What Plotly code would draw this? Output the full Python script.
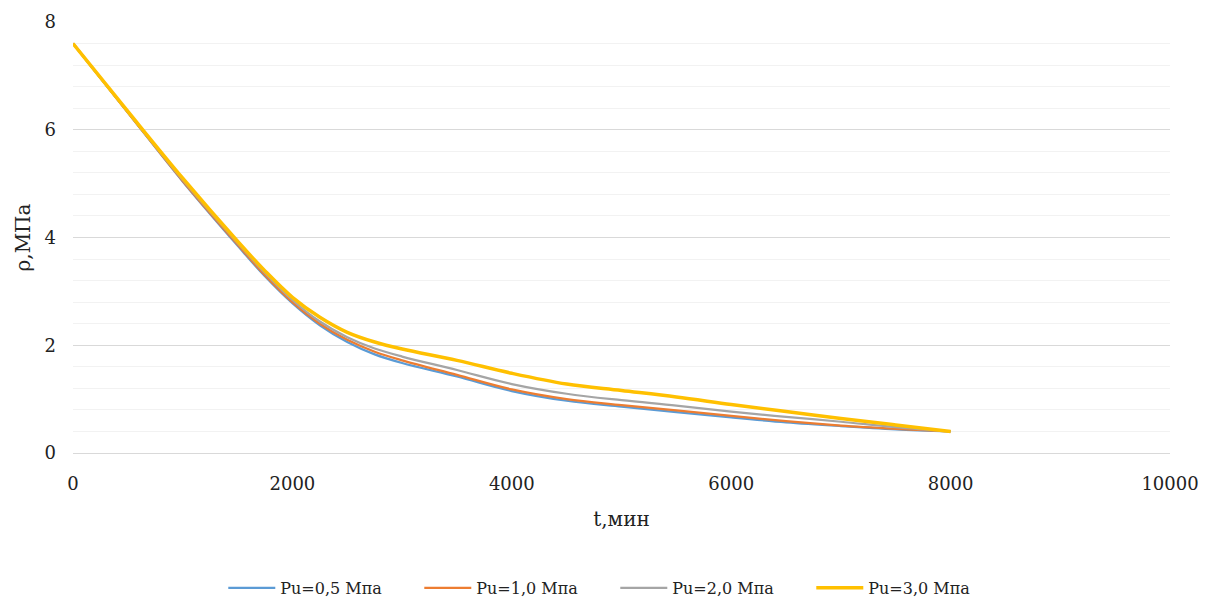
import plotly.graph_objects as go

t = [0, 500, 1000, 1500, 1750, 2000, 2250, 2500, 2750, 3000, 3500, 4000, 4500, 5000, 5500, 6000, 6500, 7000, 7500, 8000]

p05 = [7.6, 6.32, 5.04, 3.85, 3.28, 2.78, 2.37, 2.06, 1.83, 1.67, 1.42, 1.15, 0.97, 0.86, 0.76, 0.66, 0.57, 0.5, 0.44, 0.4]
p10 = [7.6, 6.32, 5.05, 3.87, 3.3, 2.8, 2.4, 2.1, 1.88, 1.72, 1.45, 1.18, 1.0, 0.89, 0.79, 0.69, 0.59, 0.51, 0.45, 0.4]
p20 = [7.6, 6.33, 5.07, 3.9, 3.34, 2.84, 2.44, 2.15, 1.94, 1.79, 1.54, 1.28, 1.1, 0.98, 0.88, 0.77, 0.67, 0.58, 0.48, 0.4]
p30 = [7.6, 6.34, 5.1, 3.93, 3.38, 2.89, 2.52, 2.24, 2.06, 1.93, 1.72, 1.48, 1.28, 1.16, 1.04, 0.9, 0.77, 0.64, 0.52, 0.4]

names = ["Pu=0,5 Мпа", "Pu=1,0 Мпа", "Pu=2,0 Мпа", "Pu=3,0 Мпа"]
colors = ["#5B9BD5", "#ED7D31", "#A5A5A5", "#FFC000"]
widths = [2.25, 2.25, 2.25, 3.5]
series = [p05, p10, p20, p30]

fig = go.Figure()
for name, col, w, ys in zip(names, colors, widths, series):
    fig.add_trace(go.Scatter(x=t, y=ys, mode="lines", name=name,
                             line=dict(color=col, width=w, shape="spline", smoothing=1.0)))

font = "DejaVu Serif, Liberation Serif, serif"
fig.update_layout(
    width=1206, height=599,
    margin=dict(l=73, r=36, t=22, b=146, autoexpand=False),
    paper_bgcolor="white", plot_bgcolor="white",
    font=dict(family=font, size=18, color="#222"),
    showlegend=True,
    legend=dict(orientation="h", x=0.137, xanchor="left", y=-0.313, yanchor="middle",
                font=dict(family=font, size=16, color="#222"), tracegroupgap=0,
                itemwidth=47, entrywidth=134, entrywidthmode="pixels"),
    xaxis=dict(range=[0, 10000], dtick=2000, tick0=0, tickformat="d", showgrid=False, zeroline=False,
               showline=False, ticks="", ticklabelstandoff=18,
               title=dict(text="t,мин", font=dict(family=font, size=20), standoff=18)),
    yaxis=dict(range=[0, 8], dtick=2, tick0=0, showgrid=True, gridcolor="#D9D9D9", gridwidth=1.3,
               zeroline=True, zerolinecolor="#D9D9D9", zerolinewidth=1.3,
               showline=False, ticks="", ticklabelstandoff=16,
               minor=dict(dtick=0.4, showgrid=True, gridcolor="#F2F2F2", gridwidth=1.3),
               title=dict(text="ρ,МПа", font=dict(family=font, size=20), standoff=8)),
)

fig.write_html("out.html")
